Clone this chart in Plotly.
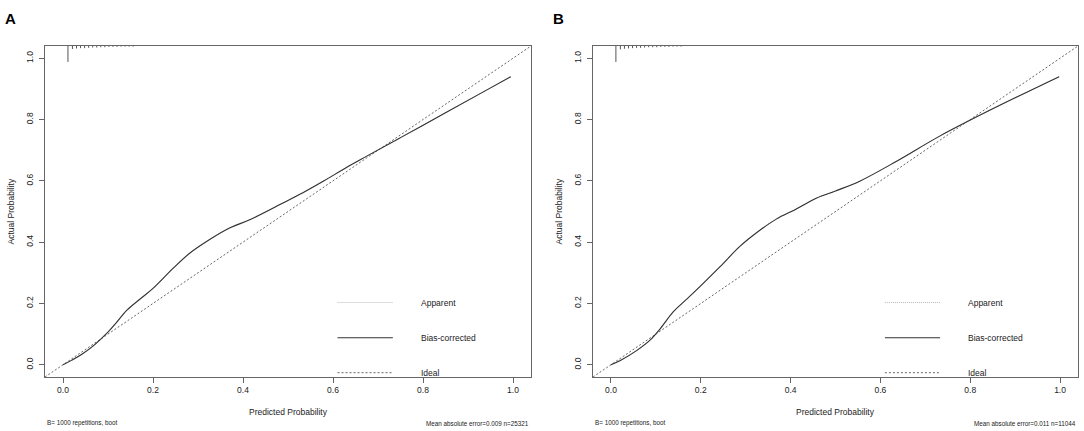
import plotly.graph_objects as go

# ---------------- data ----------------
panel_labels = ["A", "B"]
tick_vals = [0.0, 0.2, 0.4, 0.6, 0.8, 1.0]
tick_text = ["0.0", "0.2", "0.4", "0.6", "0.8", "1.0"]
axis_range = [-0.04, 1.04]

# Panel A – bias-corrected calibration curve
a_bias_x = [0.0, 0.02, 0.042, 0.07, 0.097, 0.12, 0.142, 0.17, 0.2, 0.245, 0.28, 0.319,
            0.37, 0.415, 0.481, 0.533, 0.58, 0.629, 0.673, 0.75, 0.85, 0.93, 0.995]
a_bias_y = [0.0, 0.015, 0.034, 0.065, 0.102, 0.14, 0.178, 0.213, 0.249, 0.315, 0.362, 0.402,
            0.446, 0.473, 0.522, 0.561, 0.60, 0.643, 0.679, 0.741, 0.822, 0.887, 0.940]
# Panel A – apparent curve (hidden beneath the bias-corrected one)
a_app_x = [0.0, 0.02, 0.042, 0.07, 0.097, 0.12, 0.142, 0.17, 0.2, 0.245, 0.28, 0.319,
           0.37, 0.415, 0.481, 0.533, 0.58, 0.629, 0.673, 0.75, 0.85, 0.93, 0.995]
a_app_y = [0.0, 0.016, 0.035, 0.066, 0.102, 0.14, 0.178, 0.213, 0.249, 0.315, 0.362, 0.402,
           0.446, 0.474, 0.522, 0.561, 0.60, 0.643, 0.679, 0.741, 0.822, 0.887, 0.940]

# Panel B – bias-corrected calibration curve
b_bias_x = [0.0, 0.021, 0.058, 0.087, 0.110, 0.139, 0.168, 0.198, 0.243, 0.287, 0.33, 0.369,
            0.41, 0.458, 0.50, 0.554, 0.636, 0.732, 0.85, 0.998]
b_bias_y = [0.0, 0.014, 0.047, 0.080, 0.118, 0.173, 0.213, 0.255, 0.320, 0.386, 0.437, 0.476,
            0.506, 0.544, 0.567, 0.599, 0.664, 0.746, 0.835, 0.940]
b_app_x = [0.0, 0.021, 0.058, 0.087, 0.110, 0.139, 0.168, 0.198, 0.243, 0.287, 0.33, 0.369,
           0.41, 0.458, 0.50, 0.554, 0.636, 0.732, 0.85, 0.998]
b_app_y = [0.0, 0.015, 0.048, 0.080, 0.118, 0.173, 0.213, 0.255, 0.320, 0.386, 0.437, 0.476,
           0.506, 0.544, 0.567, 0.599, 0.664, 0.746, 0.835, 0.940]

# Distribution of predicted risk (histogram segments at top of plot)
rug_x = [0.011, 0.021, 0.030, 0.039, 0.048, 0.057, 0.066, 0.075, 0.084, 0.093,
         0.102, 0.111, 0.120, 0.129, 0.138, 0.147, 0.156]
a_rug_len = [0.052, 0.010, 0.008, 0.007, 0.007, 0.006, 0.005, 0.005, 0.004, 0.004,
             0.003, 0.003, 0.003, 0.002, 0.002, 0.002, 0.002]
b_rug_len = [0.052, 0.011, 0.009, 0.008, 0.007, 0.006, 0.006, 0.005, 0.004, 0.004,
             0.004, 0.003, 0.003, 0.003, 0.002, 0.002, 0.002]

footer_left = ["B= 1000 repetitions, boot", "B= 1000 repetitions, boot"]
footer_right = ["Mean absolute error=0.009 n=25321", "Mean absolute error=0.011 n=11044"]
legend_names = ["Apparent", "Bias-corrected", "Ideal"]

# ---------------- figure ----------------
W, H = 1084, 431
FONT = "Liberation Sans, Arial, sans-serif"
AX = "#666666"
LINE = "#333333"

fig = go.Figure()

panels = [
    dict(xa="x", ya="y", bx=a_bias_x, by=a_bias_y, ax_=a_app_x, ay_=a_app_y, rug=a_rug_len,
         dom=[45 / W, 531 / W]),
    dict(xa="x2", ya="y2", bx=b_bias_x, by=b_bias_y, ax_=b_app_x, ay_=b_app_y, rug=b_rug_len,
         dom=[593 / W, 1078 / W]),
]
ydom = [(H - 377) / H, (H - 46) / H]

annotations = []
shapes = []
for i, p in enumerate(panels):
    # ideal line y = x across the plot
    fig.add_trace(go.Scatter(x=axis_range, y=axis_range, mode="lines", xaxis=p["xa"], yaxis=p["ya"],
                             line=dict(color="#666666", width=1, dash="2px,2px"), showlegend=False,
                             hoverinfo="skip"))
    # apparent
    fig.add_trace(go.Scatter(x=p["ax_"], y=p["ay_"], mode="lines", xaxis=p["xa"], yaxis=p["ya"],
                             line=dict(color="#aaaaaa", width=1, dash="1px,1px", shape="spline"),
                             showlegend=False))
    # bias-corrected
    fig.add_trace(go.Scatter(x=p["bx"], y=p["by"], mode="lines", xaxis=p["xa"], yaxis=p["ya"],
                             line=dict(color=LINE, width=1.1, shape="spline"), showlegend=False))
    # histogram segments hanging from the top border
    top = axis_range[1]
    sx, sy = [], []
    for xv, lv in zip(rug_x, p["rug"]):
        sx += [xv, xv, None]
        sy += [top, top - lv, None]
    fig.add_trace(go.Scatter(x=sx, y=sy, mode="lines", xaxis=p["xa"], yaxis=p["ya"],
                             line=dict(color="#555555", width=1), showlegend=False,
                             hoverinfo="skip"))

    # in-plot legend
    xref, yref = p["xa"], p["ya"]
    leg_y = [0.203, 0.088, -0.026]
    leg_style = [dict(color="#bbbbbb", width=1, dash="1px,1px"),
                 dict(color=LINE, width=1.1),
                 dict(color="#666666", width=1, dash="2px,2px")]
    for name, ly, st in zip(legend_names, leg_y, leg_style):
        shapes.append(dict(type="line", xref=xref, yref=yref, x0=0.61, x1=0.733, y0=ly, y1=ly,
                           line=st))
        annotations.append(dict(text=name, xref=xref, yref=yref, x=0.79, y=ly, xanchor="left",
                                yanchor="middle", showarrow=False,
                                font=dict(family=FONT, size=8.5, color="#222222")))

    d0, d1 = p["dom"]
    # panel letter
    annotations.append(dict(text="<b>%s</b>" % panel_labels[i], xref="paper", yref="paper",
                            x=(d0 * W - 35) / W, y=(H - 19) / H, xanchor="center", yanchor="middle",
                            showarrow=False, font=dict(family=FONT, size=15, color="#000000")))
    # axis titles
    annotations.append(dict(text="Predicted Probability", xref="paper", yref="paper",
                            x=(d0 + d1) / 2, y=(H - 412) / H, xanchor="center", yanchor="middle",
                            showarrow=False, font=dict(family=FONT, size=8.5, color="#222222")))
    annotations.append(dict(text="Actual Probability", xref="paper", yref="paper",
                            x=(d0 * W - 34) / W, y=(ydom[0] + ydom[1]) / 2, xanchor="center",
                            yanchor="middle", textangle=-90, showarrow=False,
                            font=dict(family=FONT, size=8.5, color="#222222")))
    # footers
    annotations.append(dict(text=footer_left[i], xref="paper", yref="paper", x=d0, y=(H - 423) / H,
                            xanchor="left", yanchor="middle", showarrow=False,
                            font=dict(family=FONT, size=6.3, color="#222222")))
    annotations.append(dict(text=footer_right[i], xref="paper", yref="paper", x=d1, y=(H - 423) / H,
                            xanchor="right", yanchor="middle", showarrow=False,
                            font=dict(family=FONT, size=6.3, color="#222222")))

axis_common = dict(range=axis_range, tickvals=tick_vals, ticktext=tick_text, ticks="outside",
                   ticklen=5, tickcolor=AX, tickwidth=1, showline=True, linecolor=AX, linewidth=1,
                   mirror=True, showgrid=False, zeroline=False,
                   tickfont=dict(family=FONT, size=8.5, color="#222222"))

fig.update_layout(
    width=W, height=H, margin=dict(l=0, r=0, t=0, b=0), autosize=False,
    paper_bgcolor="white", plot_bgcolor="white",
    xaxis=dict(domain=panels[0]["dom"], anchor="y", **axis_common),
    yaxis=dict(domain=ydom, anchor="x", tickangle=-90, ticklabelstandoff=3, **axis_common),
    xaxis2=dict(domain=panels[1]["dom"], anchor="y2", **axis_common),
    yaxis2=dict(domain=ydom, anchor="x2", tickangle=-90, ticklabelstandoff=3, **axis_common),
    annotations=annotations, shapes=shapes, showlegend=False,
)

fig.write_html("out.html", config={"displayModeBar": False},
               post_script="document.body.style.margin='0';document.body.style.overflow='hidden';")
